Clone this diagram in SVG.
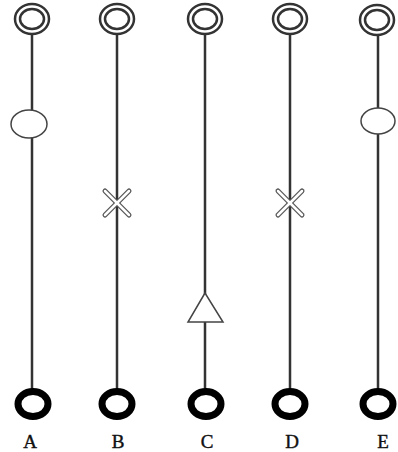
<svg xmlns="http://www.w3.org/2000/svg" width="398" height="452" viewBox="0 0 398 452">
<style>
.line{stroke:#333;stroke-width:2.5;fill:none}
.top{fill:#fff;stroke:#333;stroke-width:2.5}
.bot{fill:#fff;stroke:#000;stroke-width:7}
.mk{fill:#fff;stroke:#444;stroke-width:1.5}
.x{stroke:#555;stroke-width:5;stroke-linecap:round}
.xi{stroke:#fff;stroke-width:2.5;stroke-linecap:round}
.lbl{font-family:"Liberation Serif",serif;font-size:19px;fill:#111;text-anchor:middle;stroke:#111;stroke-width:0.4}
</style>
<rect width="398" height="452" fill="#fff"/>
<g id="connectors">
<line class="line" x1="32" y1="33" x2="32" y2="389"/>
<line class="line" x1="117" y1="33" x2="117" y2="389"/>
<line class="line" x1="205" y1="33" x2="205" y2="389"/>
<line class="line" x1="290" y1="33" x2="290" y2="389"/>
<line class="line" x1="378" y1="33" x2="378" y2="389"/>
</g>
<g id="A">
<ellipse class="top" cx="32" cy="19" rx="17" ry="15"/><ellipse class="top" cx="32" cy="19" rx="12" ry="10"/>
<ellipse class="mk" cx="29" cy="124" rx="18" ry="14"/>
<ellipse class="bot" cx="33" cy="404" rx="15" ry="12.5"/>
<text class="lbl" x="30" y="448">A</text>
</g>
<g id="B">
<ellipse class="top" cx="117" cy="19" rx="17" ry="15"/><ellipse class="top" cx="117" cy="19" rx="12" ry="10"/>
<g><line class="x" x1="105" y1="191" x2="129" y2="215"/><line class="x" x1="129" y1="191" x2="105" y2="215"/><line class="xi" x1="105" y1="191" x2="129" y2="215"/><line class="xi" x1="129" y1="191" x2="105" y2="215"/></g>
<ellipse class="bot" cx="117" cy="404" rx="15" ry="12.5"/>
<text class="lbl" x="118" y="448">B</text>
</g>
<g id="C">
<ellipse class="top" cx="205" cy="19" rx="17" ry="15"/><ellipse class="top" cx="205" cy="19" rx="12" ry="10"/>
<polygon class="mk" points="205,293 188,322 223,322"/>
<ellipse class="bot" cx="206" cy="404" rx="15" ry="12.5"/>
<text class="lbl" x="207" y="448">C</text>
</g>
<g id="D">
<ellipse class="top" cx="290" cy="19" rx="17" ry="15"/><ellipse class="top" cx="290" cy="19" rx="12" ry="10"/>
<g><line class="x" x1="278" y1="191" x2="302" y2="215"/><line class="x" x1="302" y1="191" x2="278" y2="215"/><line class="xi" x1="278" y1="191" x2="302" y2="215"/><line class="xi" x1="302" y1="191" x2="278" y2="215"/></g>
<ellipse class="bot" cx="290" cy="404" rx="15" ry="12.5"/>
<text class="lbl" x="292" y="448">D</text>
</g>
<g id="E">
<ellipse class="top" cx="377" cy="20" rx="17" ry="15"/><ellipse class="top" cx="377" cy="20" rx="12" ry="10"/>
<ellipse class="mk" cx="378" cy="121" rx="17" ry="13"/>
<ellipse class="bot" cx="378" cy="404" rx="15" ry="12.5"/>
<text class="lbl" x="383" y="448">E</text>
</g>
</svg>
